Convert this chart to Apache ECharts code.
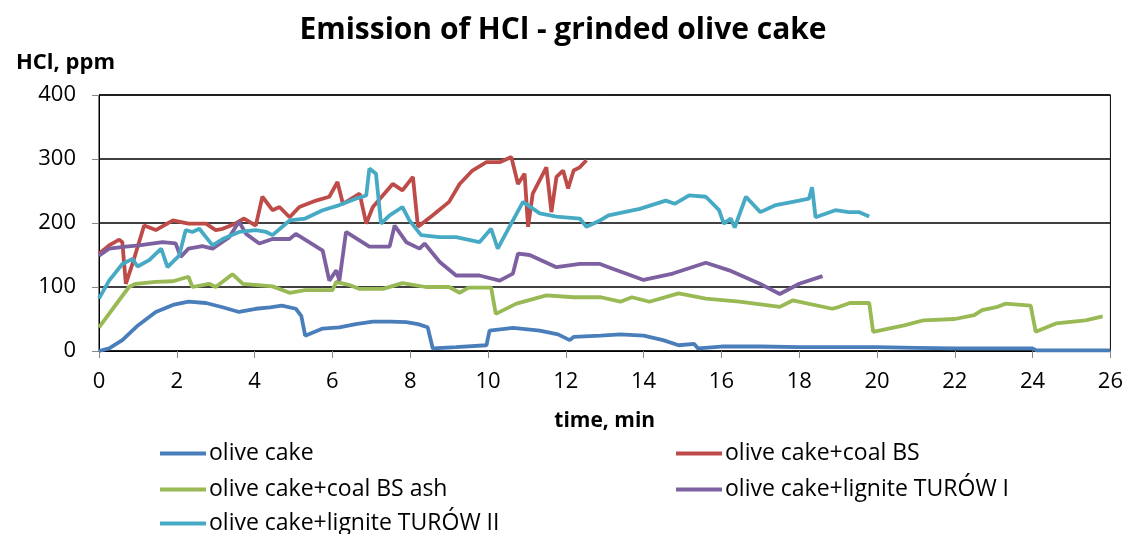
<!DOCTYPE html>
<html>
<head>
<meta charset="utf-8">
<script src="https://cdn.jsdelivr.net/npm/echarts@6/dist/echarts.min.js"></script>
<style>
  html, body { margin: 0; padding: 0; background: #fff; }
  #main { width: 1126px; height: 534px; }
</style>
</head>
<body>
<div id="main"></div>
<script>
// time, min / HCl, ppm
var ocT = [0, 0.26, 0.6, 1.0, 1.46, 1.9, 2.3, 2.75, 3.2, 3.6, 4.03, 4.4, 4.7, 5.06, 5.2, 5.3, 5.75, 6.18, 6.6, 7.04, 7.5, 7.9, 8.2, 8.45, 8.58, 9.18, 9.96, 10.04, 10.64, 11.33, 11.8, 12.1, 12.2, 12.9, 13.4, 14.0, 14.5, 14.9, 15.3, 15.4, 16, 17, 18, 19, 20, 21, 22, 23, 24, 24.1, 26];
var ocV = [0, 4, 17, 40, 61, 72, 77, 75, 68, 61, 66, 68, 71, 66, 55, 24, 35, 37, 42, 46, 46, 45, 42, 37, 4, 6, 9, 32, 36, 32, 26, 17, 22, 24, 26, 24, 17, 9, 11, 4, 7, 7, 6, 6, 6, 5, 4, 4, 4, 1, 1];

var bsT = [0, 0.26, 0.52, 0.6, 0.69, 0.86, 1.16, 1.46, 1.9, 2.3, 2.75, 3.0, 3.18, 3.5, 3.73, 4.03, 4.2, 4.46, 4.64, 4.9, 5.15, 5.58, 5.92, 6.13, 6.27, 6.7, 6.87, 7.04, 7.55, 7.8, 8.07, 8.2, 8.58, 9.0, 9.27, 9.6, 9.96, 10.3, 10.6, 10.77, 10.94, 11.03, 11.15, 11.5, 11.63, 11.76, 11.93, 12.06, 12.2, 12.36, 12.53];
var bsV = [152, 165, 174, 170, 105, 136, 196, 189, 204, 199, 199, 189, 191, 199, 207, 196, 241, 220, 225, 209, 225, 235, 241, 264, 230, 246, 199, 225, 261, 251, 272, 194, 212, 233, 261, 282, 295, 295, 303, 261, 277, 194, 246, 287, 217, 272, 282, 254, 282, 287, 298];

var ashT = [0, 0.77, 0.94, 1.46, 1.9, 2.3, 2.4, 2.83, 3.0, 3.43, 3.7, 4.46, 4.9, 5.3, 6.0, 6.1, 6.44, 6.7, 7.3, 7.8, 8.4, 9.0, 9.27, 9.5, 10.08, 10.2, 10.73, 11.5, 12.19, 12.9, 13.4, 13.7, 14.15, 14.9, 15.6, 16.46, 17.5, 17.83, 18.85, 19.03, 19.3, 19.8, 19.9, 20.7, 21.2, 22.0, 22.5, 22.7, 23.1, 23.3, 23.95, 24.08, 24.6, 25.36, 25.8];
var ashV = [37, 100, 105, 108, 109, 116, 100, 105, 100, 120, 105, 101, 91, 95, 95, 108, 103, 97, 97, 106, 100, 100, 91, 99, 99, 58, 74, 87, 84, 84, 77, 84, 77, 90, 82, 77, 69, 79, 66, 69, 75, 75, 30, 40, 48, 50, 56, 64, 69, 74, 71, 30, 43, 48, 54];

var t1T = [0, 0.26, 0.69, 1.03, 1.63, 1.97, 2.1, 2.3, 2.66, 2.92, 3.35, 3.6, 3.78, 4.12, 4.46, 4.9, 5.06, 5.75, 5.92, 6.1, 6.18, 6.35, 6.95, 7.47, 7.6, 7.9, 8.24, 8.37, 8.76, 9.18, 9.78, 10.3, 10.64, 10.77, 11.07, 11.76, 12.36, 12.88, 13.1, 14.0, 14.75, 15.6, 16.2, 17.06, 17.5, 18.0, 18.6];
var t1V = [149, 160, 163, 165, 170, 168, 147, 160, 164, 160, 178, 202, 183, 168, 175, 175, 183, 157, 110, 126, 110, 186, 163, 163, 196, 170, 160, 168, 139, 118, 118, 110, 121, 152, 150, 131, 136, 136, 131, 111, 121, 138, 126, 103, 89, 105, 117];

var t2T = [0, 0.26, 0.6, 0.86, 0.99, 1.29, 1.6, 1.76, 2.06, 2.23, 2.4, 2.58, 2.75, 2.92, 3.18, 3.6, 4.03, 4.3, 4.46, 4.9, 5.3, 5.75, 6.18, 6.6, 6.87, 6.95, 7.12, 7.25, 7.47, 7.8, 7.98, 8.28, 8.75, 9.18, 9.78, 10.08, 10.25, 10.55, 10.9, 11.33, 11.76, 12.36, 12.53, 12.88, 13.1, 13.9, 14.57, 14.8, 15.17, 15.6, 15.94, 16.06, 16.24, 16.34, 16.63, 17.0, 17.4, 18.0, 18.25, 18.33, 18.42, 18.93, 19.27, 19.53, 19.8];
var t2V = [82, 110, 136, 144, 132, 142, 160, 131, 149, 189, 186, 191, 178, 165, 175, 186, 189, 186, 181, 204, 207, 220, 228, 238, 243, 285, 277, 199, 212, 225, 204, 181, 178, 178, 170, 191, 160, 194, 233, 215, 210, 207, 194, 204, 212, 222, 235, 230, 243, 241, 220, 199, 207, 193, 241, 217, 228, 235, 238, 256, 209, 220, 217, 217, 210];

var names = ['olive cake', 'olive cake+coal BS', 'olive cake+coal BS ash', 'olive cake+lignite TURÓW I', 'olive cake+lignite TURÓW II'];
var colors = ['#4a7ebb', '#be4b48', '#98b954', '#7d60a0', '#46aac5'];
var xTicks = [0, 26, 2];   // min, max, step
var yTicks = [0, 400, 100];

var FONT = '"Open Sans", sans-serif';

function pairs(t, v) {
    var out = [];
    for (let i = 0; i < t.length; i++) {
        out.push([t[i], v[i]]);
    }
    return out;
}

var seriesData = [pairs(ocT, ocV), pairs(bsT, bsV), pairs(ashT, ashV), pairs(t1T, t1V), pairs(t2T, t2V)];

// legend spots: [left, top]
var legendPos = [[160, 442], [676, 442], [160, 478], [676, 478], [160, 512]];

var myChart = echarts.init(document.getElementById('main'));

var option = {
    animation: false,
    backgroundColor: '#fff',
    title: [{
        text: 'Emission of HCl - grinded olive cake',
        left: 'center',
        top: 10,
        textStyle: { fontFamily: FONT, fontSize: 30, fontWeight: 'bold', color: '#000' }
    }, {
        text: 'HCl, ppm',
        left: 11,
        top: 47,
        textStyle: { fontFamily: FONT, fontSize: 22, fontWeight: 'bold', color: '#000' }
    }],
    legend: names.map(function (n, i) {
        return {
            data: [n],
            left: legendPos[i][0],
            top: legendPos[i][1],
            icon: 'rect',
            itemWidth: 46,
            itemHeight: 4,
            padding: 0,
            selectedMode: false,
            textStyle: { fontFamily: FONT, fontSize: 23, color: '#000', padding: [0, 0, 0, -2] }
        };
    }),
    grid: {
        left: 99, right: 15, top: 95, bottom: 183,
        show: true, borderColor: '#000', borderWidth: 1
    },
    xAxis: {
        type: 'value',
        min: xTicks[0], max: xTicks[1], interval: xTicks[2],
        name: 'time, min',
        nameLocation: 'middle',
        nameGap: 60,
        nameTextStyle: { fontFamily: FONT, fontSize: 21, fontWeight: 'bold', color: '#000' },
        axisLine: { lineStyle: { color: '#000', width: 1 } },
        axisTick: { show: true, length: 7, lineStyle: { color: '#888' } },
        axisLabel: { fontFamily: FONT, fontSize: 22, color: '#000', margin: 20 },
        splitLine: { show: false }
    },
    yAxis: {
        type: 'value',
        min: yTicks[0], max: yTicks[1], interval: yTicks[2],
        axisLine: { show: true, lineStyle: { color: '#000', width: 1 } },
        axisTick: { show: true, length: 7, lineStyle: { color: '#888' } },
        axisLabel: { fontFamily: FONT, fontSize: 22, color: '#000', margin: 23 },
        splitLine: { show: true, lineStyle: { color: '#000', width: 1.5 } }
    },
    series: names.map(function (n, i) {
        return {
            name: n,
            type: 'line',
            data: seriesData[i],
            showSymbol: false,
            symbol: 'none',
            color: colors[i],
            lineStyle: { width: 3.8, color: colors[i] },
            z: 2 + i
        };
    })
};

myChart.setOption(option);
</script>
</body>
</html>
